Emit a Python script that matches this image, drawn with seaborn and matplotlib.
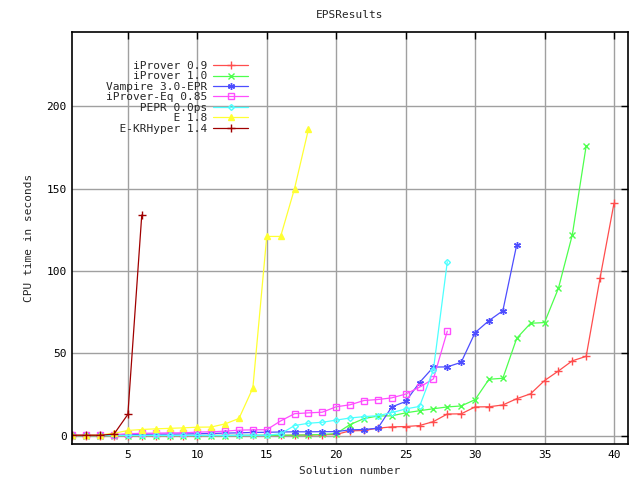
import matplotlib
matplotlib.use("Agg")
import matplotlib.pyplot as plt
import seaborn as sns
import pandas as pd

sns.set_theme(style="white")
plt.rcParams['font.family'] = ['DejaVu Sans Mono', 'DejaVu Sans']

names = ["iProver 0.9", "iProver 1.0", "Vampire 3.0-EPR", "iProver-Eq 0.85",
         "PEPR 0.0ps", "E 1.8", "E-KRHyper 1.4"]

iprover09 = [0.1, 0.1, 0.1, 0.1, 0.1, 0.1, 0.1, 0.1, 0.1, 0.1, 0.2, 0.2, 0.2, 0.2, 0.2,
             0.2, 0.3, 0.5, 0.6, 0.8, 3.0, 3.2, 4.6, 5.4, 5.6, 6.2, 8.6, 13.2, 13.3, 17.5,
             17.6, 18.7, 22.5, 25.5, 33.5, 39.3, 45.5, 48.2, 95.8, 141.0]
iprover10 = [0.1, 0.1, 0.1, 0.1, 0.1, 0.1, 0.1, 0.1, 0.1, 0.1, 0.1, 0.1, 0.2, 0.2, 0.3,
             0.3, 0.4, 0.5, 0.8, 1.3, 6.8, 10.4, 12.0, 12.1, 13.9, 15.2, 16.4, 17.5, 18.1,
             21.9, 34.3, 34.9, 59.2, 68.3, 68.7, 89.5, 121.9, 176.0]
vampire = [0.3, 0.3, 0.3, 0.3, 0.8, 0.9, 1.0, 1.0, 1.1, 1.2, 1.4, 1.6, 1.8, 2.0, 2.1,
           2.3, 2.4, 2.4, 2.5, 2.5, 3.6, 3.8, 4.6, 17.5, 20.8, 32.3, 41.7, 41.8, 44.6,
           62.6, 69.9, 75.9, 116.0]
iprovereq = [0.6, 0.6, 0.6, 0.7, 1.2, 1.5, 1.6, 1.7, 1.8, 2.2, 2.4, 2.8, 3.4, 3.6, 3.7,
             9.0, 13.4, 13.9, 14.3, 17.6, 18.8, 21.4, 22.0, 23.0, 25.3, 29.5, 34.5, 63.5]
pepr = [0.2, 0.2, 0.2, 0.2, 0.2, 0.2, 0.2, 0.2, 0.2, 0.2, 0.2, 0.2, 0.3, 0.3, 0.3,
        1.2, 6.2, 7.6, 8.2, 9.5, 10.8, 11.6, 12.2, 14.0, 16.3, 17.8, 40.0, 105.6]
e18 = [0.3, 0.3, 0.5, 1.5, 3.2, 3.8, 4.2, 4.5, 4.8, 5.2, 5.3, 7.2, 10.5, 29.0,
       121.0, 121.0, 150.0, 186.0]
ekrhyper = [0.3, 0.3, 0.3, 1.0, 13.0, 134.0]

series = [iprover09, iprover10, vampire, iprovereq, pepr, e18, ekrhyper]
colors = ["#ff4d4d", "#4dff4d", "#4d4dff", "#ff4dff", "#4dffff", "#ffff33", "#a00000"]
markers = ["+", "x", (6, 2, 0), "s", "D", "^", "+"]
mfill = [True, True, True, False, False, True, True]
msizes = [5.5, 4, 5, 4, 3, 4, 5.5]

fig = plt.figure(figsize=(6.4, 4.8), dpi=100)
ax = fig.add_axes([0.113, 0.075, 0.868, 0.858])

width = max(len(n) for n in names)
for name, vals, c, m, f, ms in zip(names, series, colors, markers, mfill, msizes):
    df = pd.DataFrame({"x": list(range(1, len(vals) + 1)), "y": vals})
    sns.lineplot(data=df, x="x", y="y", ax=ax, color=c, linewidth=0.9,
                 marker=m, markersize=ms, markeredgewidth=1.0,
                 markerfacecolor=(c if f else "none"), markeredgecolor=c,
                 label=name.rjust(width))

ax.set_xlim(1, 41)
ax.set_ylim(-5, 245)
ax.set_xticks([5, 10, 15, 20, 25, 30, 35, 40])
ax.set_yticks([0, 50, 100, 150, 200])
ax.grid(True, color="#a0a0a0", linewidth=1.0, linestyle="-")
ax.set_axisbelow(True)
ax.tick_params(direction="in", length=5, width=1, colors="black",
               top=True, right=True, labelsize=8, pad=4)
for sp in ax.spines.values():
    sp.set_color("black")
    sp.set_linewidth(1.2)

ax.set_xlabel("Solution number", fontsize=8, labelpad=5)
ax.set_ylabel("CPU time in seconds", fontsize=8, labelpad=9)
ax.set_title("EPSResults", fontsize=8, pad=10)

leg = ax.legend(loc="upper left", bbox_to_anchor=(106 / 640, 1 - 61 / 480),
                bbox_transform=fig.transFigure, frameon=False, markerfirst=False,
                fontsize=8, labelspacing=0.04, handlelength=3.2, handletextpad=0.5,
                borderpad=0, borderaxespad=0)

fig.savefig("out.png", dpi=100)
